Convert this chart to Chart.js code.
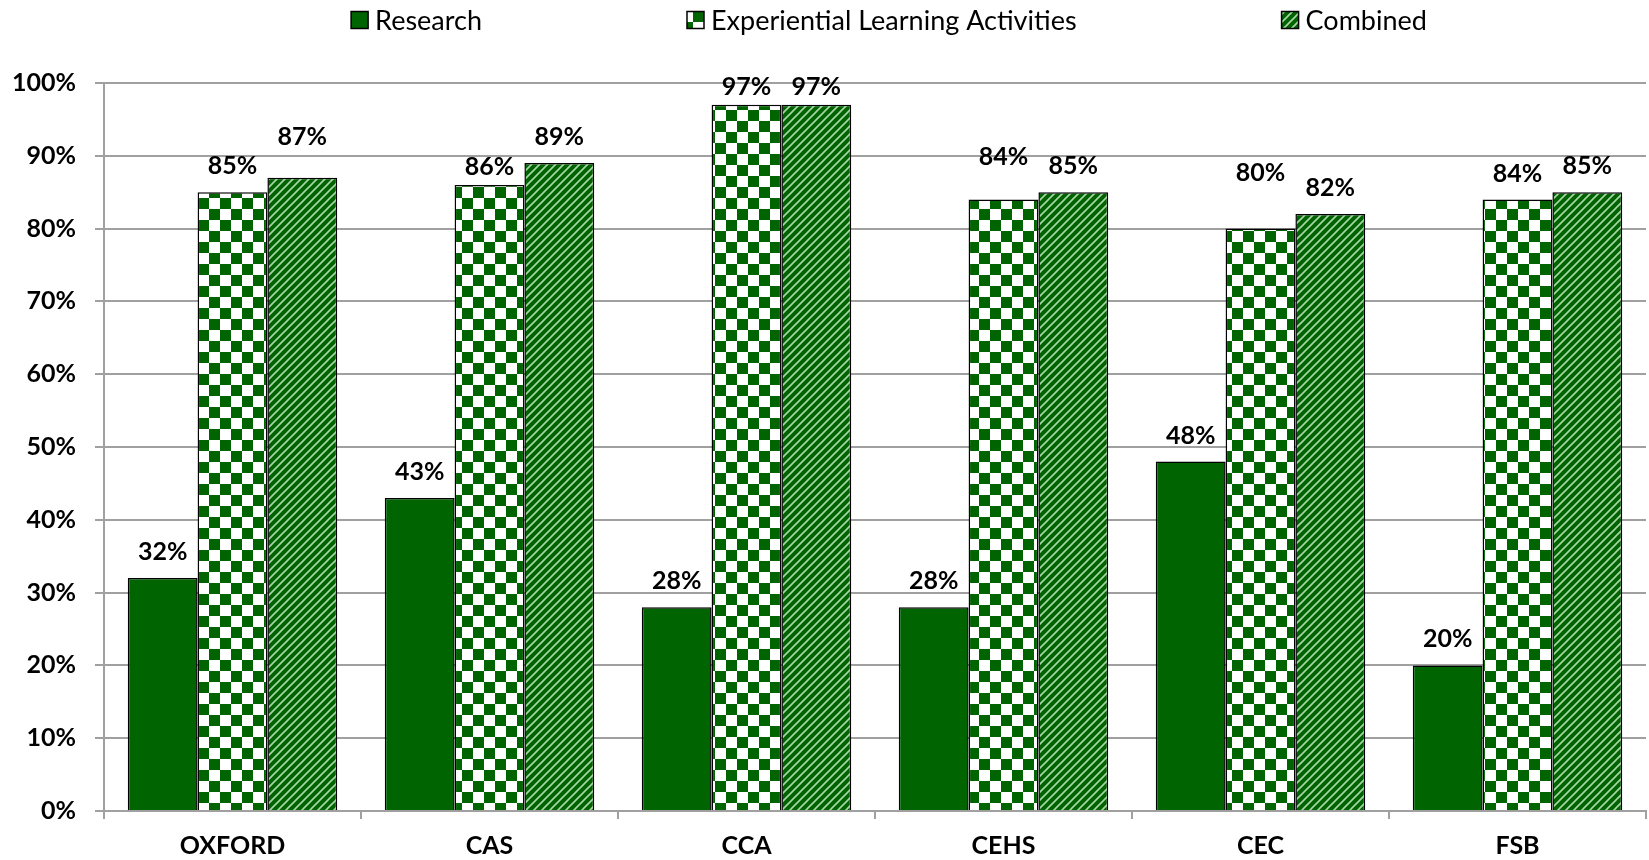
<!DOCTYPE html>
<html>
<head>
<meta charset="utf-8">
<title>Research vs Experiential Learning</title>
<script src="https://cdn.jsdelivr.net/npm/chart.js@4.4.0/dist/chart.umd.min.js"></script>
<style>
    body { margin: 0; background: #fff; }
    #wrap { width: 1649px; height: 860px; }
</style>
</head>
<body>
<div id="wrap"><canvas id="collegeChart"></canvas></div>
<script>
const colleges = ['OXFORD', 'CAS', 'CCA', 'CEHS', 'CEC', 'FSB'];
const research = [0.32, 0.43, 0.28, 0.28, 0.48, 0.20];
const experiential = [0.85, 0.86, 0.97, 0.84, 0.80, 0.84];
const combined = [0.87, 0.89, 0.97, 0.85, 0.82, 0.85];
const yTicks = [0, 0.1, 0.2, 0.3, 0.4, 0.5, 0.6, 0.7, 0.8, 0.9, 1.0];

// label nudges (px) to mimic the hand placed labels of the original
const labelShift = [
    [0, 0, 0, 0, 0, 0],
    [0, -8, -8, 17, 30, 0],
    [15, 0, -8, 0, 0, 0]
];

const GREEN = '#006400';
const FONT = 'Lato';

const makeChecker = () => {
    const c = document.createElement('canvas');
    c.width = 22; c.height = 22;
    const g = c.getContext('2d');
    g.fillStyle = '#fff';
    g.fillRect(0, 0, 22, 22);
    g.fillStyle = GREEN;
    g.fillRect(0, 0, 11, 11);
    g.fillRect(11, 11, 11, 11);
    return g.createPattern(c, 'repeat');
}

const makeDiagonal = () => {
    const c = document.createElement('canvas');
    c.width = 8; c.height = 8;
    const g = c.getContext('2d');
    g.fillStyle = GREEN;
    g.fillRect(0, 0, 8, 8);
    g.strokeStyle = 'rgba(200, 235, 200, 0.85)';
    g.lineWidth = 1.6;
    g.beginPath();
    g.moveTo(-1, 9); g.lineTo(9, -1);
    g.moveTo(-1, 1); g.lineTo(1, -1);
    g.moveTo(7, 9); g.lineTo(9, 7);
    g.stroke();
    return g.createPattern(c, 'repeat');
}

const checker = makeChecker();
const diagonal = makeDiagonal();

const pct = (v) => Math.round(v * 100) + '%';

// value labels above bars
const valueLabels = {
    id: 'valueLabels',
    afterDatasetsDraw(chart) {
        const ctx = chart.ctx;
        ctx.save();
        ctx.font = 'bold 25px ' + FONT;
        ctx.fillStyle = '#000';
        ctx.textAlign = 'center';
        ctx.textBaseline = 'middle';
        chart.data.datasets.forEach((ds, i) => {
            chart.getDatasetMeta(i).data.forEach((bar, j) => {
                ctx.fillText(pct(ds.data[j]), bar.x, bar.y - 26 - labelShift[i][j]);
            });
        });
        ctx.restore();
    }
};

// wide spaced legend across the top
const topLegend = {
    id: 'topLegend',
    afterDraw(chart) {
        const ctx = chart.ctx;
        const box = 17, gapText = 7, spacing = 205;
        ctx.save();
        ctx.font = '27px ' + FONT;
        ctx.textBaseline = 'middle';
        const items = chart.data.datasets.map(ds => ({
            text: ds.label,
            fill: ds.backgroundColor,
            w: box + gapText + ctx.measureText(ds.label).width
        }));
        const total = items.reduce((s, it) => s + it.w, 0) + spacing * (items.length - 1);
        let x = 889 - total / 2;
        const y = 20;
        items.forEach(it => {
            ctx.fillStyle = it.fill;
            ctx.fillRect(x, y - box / 2, box, box);
            ctx.strokeStyle = '#000';
            ctx.lineWidth = 1.5;
            ctx.strokeRect(x, y - box / 2, box, box);
            ctx.fillStyle = '#000';
            ctx.fillText(it.text, x + box + gapText, y + 1);
            x += it.w + spacing;
        });
        ctx.restore();
    }
};

const ctx = document.getElementById('collegeChart');

new Chart(ctx, {
    type: 'bar',
    data: {
        labels: colleges,
        datasets: [
            {
                label: 'Research',
                data: research,
                backgroundColor: GREEN,
                borderColor: '#000',
                borderWidth: 1.5
            },
            {
                label: 'Experiential Learning Activities',
                data: experiential,
                backgroundColor: checker,
                borderColor: '#000',
                borderWidth: 1.5
            },
            {
                label: 'Combined',
                data: combined,
                backgroundColor: diagonal,
                borderColor: '#000',
                borderWidth: 1.5
            }
        ]
    },
    options: {
        responsive: true,
        maintainAspectRatio: false,
        animation: false,
        categoryPercentage: 0.815,
        barPercentage: 1.0,
        layout: { padding: { top: 83, right: 3, left: 0, bottom: 0 } },
        plugins: {
            legend: { display: false },
            tooltip: { enabled: false }
        },
        scales: {
            x: {
                afterFit: (scale) => { scale.height = 49; },
                grid: {
                    offset: true,
                    drawOnChartArea: false,
                    color: '#a0a0a0',
                    lineWidth: 2,
                    tickLength: 8
                },
                border: { color: '#a0a0a0', width: 2 },
                ticks: {
                    color: '#000',
                    padding: 12,
                    font: { family: FONT, size: 25, weight: 'bold' }
                }
            },
            y: {
                min: 0,
                max: 1,
                afterFit: (scale) => { scale.width = 104; },
                afterBuildTicks: (scale) => { scale.ticks = yTicks.map(v => ({ value: v })); },
                grid: {
                    color: '#a0a0a0',
                    lineWidth: 2,
                    tickLength: 9
                },
                border: { color: '#a0a0a0', width: 2 },
                ticks: {
                    color: '#000',
                    padding: 19,
                    callback: (v) => pct(v),
                    font: { family: FONT, size: 25, weight: 'bold' }
                }
            }
        }
    },
    plugins: [valueLabels, topLegend]
});
</script>
</body>
</html>
